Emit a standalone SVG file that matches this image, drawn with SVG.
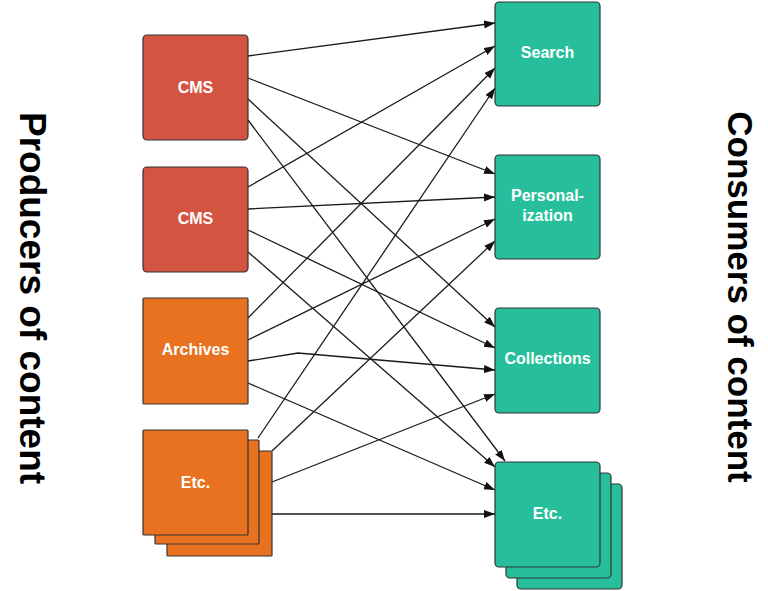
<svg xmlns="http://www.w3.org/2000/svg" width="768" height="591" viewBox="0 0 768 591">
<style>
.red{fill:#d45442;stroke:#333;stroke-width:1.2}
.org{fill:#e8721f;stroke:#333;stroke-width:1.2}
.teal{fill:#27bf9b;stroke:#333;stroke-width:1.2}
.lbl{font-family:"Liberation Sans",Arial,sans-serif;font-weight:bold;font-size:16px;fill:#fff;text-anchor:middle}
.side{font-family:"Liberation Sans",Arial,sans-serif;font-weight:bold;fill:#000;text-anchor:middle}
.edges line,.edges polyline{stroke:#1a1a1a;stroke-width:1.3;fill:none;marker-end:url(#ah)}
</style>
<defs>
<marker id="ah" markerUnits="userSpaceOnUse" markerWidth="13" markerHeight="9" refX="11" refY="4" orient="auto">
<path d="M0,0 L11,4 L0,8 z" fill="#111"/>
</marker>
</defs>
<rect width="768" height="591" fill="#fff"/>
<g id="label-producers"><text class="side" font-size="37" transform="translate(20,298) rotate(90)">Producers of content</text></g>
<g id="label-consumers"><text class="side" font-size="35" transform="translate(728,297) rotate(90)">Consumers of content</text></g>
<g class="edges" id="connectors">
<line x1="248" y1="56" x2="495" y2="23"/>
<line x1="248" y1="78" x2="495" y2="174"/>
<line x1="248" y1="99" x2="495" y2="327"/>
<line x1="248" y1="120" x2="505" y2="461"/>
<line x1="248" y1="187" x2="495" y2="46"/>
<line x1="248" y1="209" x2="495" y2="197"/>
<line x1="248" y1="230" x2="495" y2="348"/>
<line x1="248" y1="252" x2="495" y2="467"/>
<line x1="248" y1="318" x2="495" y2="68"/>
<line x1="248" y1="340" x2="495" y2="219"/>
<polyline points="248,361 298,353 495,370"/>
<line x1="248" y1="383" x2="495" y2="490"/>
<line x1="258" y1="438" x2="495" y2="88"/>
<line x1="272" y1="451" x2="495" y2="241"/>
<line x1="272" y1="482" x2="495" y2="394"/>
<line x1="272" y1="514" x2="495" y2="514"/>
</g>
<g id="cms1"><rect class="red" x="143" y="35" width="105" height="105" rx="4"/><text class="lbl" x="195.5" y="93">CMS</text></g>
<g id="cms2"><rect class="red" x="143" y="167" width="105" height="105" rx="4"/><text class="lbl" x="195.5" y="224">CMS</text></g>
<g id="archives"><rect class="org" x="143" y="298" width="105" height="106" rx="1"/><text class="lbl" x="195.5" y="355">Archives</text></g>
<g id="etc-producers">
<rect class="org" x="167" y="451" width="105" height="105" rx="1"/>
<rect class="org" x="155" y="440" width="104" height="104" rx="1"/>
<rect class="org" x="143" y="430" width="105" height="105" rx="1"/>
<text class="lbl" x="195.5" y="488">Etc.</text>
</g>
<g id="search"><rect class="teal" x="495" y="2" width="105" height="104" rx="4"/><text class="lbl" x="547.5" y="58">Search</text></g>
<g id="personalization"><rect class="teal" x="495" y="155" width="105" height="104" rx="4"/><text class="lbl" x="547.5" y="201">Personal-</text><text class="lbl" x="547.5" y="221">ization</text></g>
<g id="collections"><rect class="teal" x="495" y="308" width="105" height="105" rx="4"/><text class="lbl" x="547.5" y="364">Collections</text></g>
<g id="etc-consumers">
<rect class="teal" x="517" y="484" width="105" height="105" rx="4"/>
<rect class="teal" x="506" y="473" width="105" height="105" rx="4"/>
<rect class="teal" x="495" y="462" width="105" height="105" rx="4"/>
<text class="lbl" x="547.5" y="519">Etc.</text>
</g>
</svg>
